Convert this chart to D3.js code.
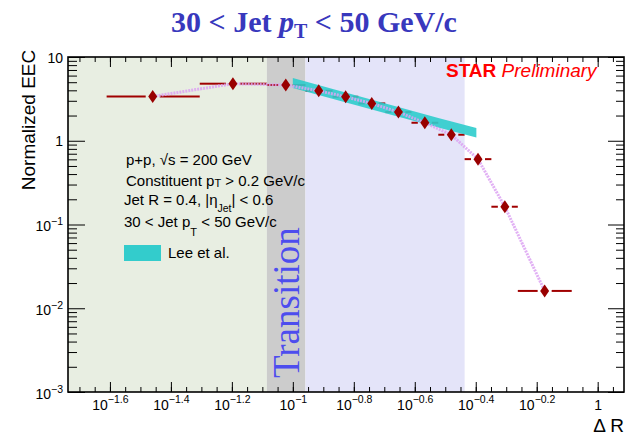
<!DOCTYPE html>
<html>
<head>
<meta charset="utf-8">
<script src="https://cdn.jsdelivr.net/npm/d3@7"></script>
<style>
  body { margin: 0; background: #fff; }
</style>
</head>
<body>
<div id="chart-area"></div>
<script>

// EEC points
var binLow  = [0.0245, 0.0495, 0.0822, 0.110, 0.135, 0.164, 0.201, 0.245, 0.300, 0.366, 0.448, 0.547];
var binHigh = [0.0495, 0.0822, 0.110, 0.135, 0.164, 0.201, 0.245, 0.300, 0.366, 0.448, 0.547, 0.822];
var binCenter = [0.0347, 0.0636, 0.0948, 0.1216, 0.149, 0.1815, 0.222, 0.271, 0.331, 0.405, 0.496, 0.670];
var eecValues = [3.38, 4.80, 4.63, 3.95, 3.35, 2.79, 2.20, 1.64, 1.18, 0.603, 0.163, 0.0161];

// Lee et al. band
var leeX    = [0.1, 0.2, 0.3, 0.4];
var leeLow  = [4.26, 2.14, 1.44, 1.09];
var leeHigh = [5.61, 2.80, 1.87, 1.42];

// shaded regions: perturbative / transition / free hadron
var regionEdges = [0.0183, 0.0822, 0.110, 0.366];

// axis ticks
var xMajorExp = [-1.6, -1.4, -1.2, -1, -0.8, -0.6, -0.4, -0.2, 0];
var yMajorExp = [-3, -2, -1, 0, 1];

var W = 630, H = 438;
var frame = { left: 68, right: 624, top: 57, bottom: 392 };
var regionColors = ["#e8eee2", "#cccccc", "#e4e4f9"];
var sans = "'Liberation Sans', Arial, sans-serif";
var serif = "'Liberation Serif', 'Times New Roman', serif";

var svg = d3.select("#chart-area")
    .append("svg")
        .attr("width", W)
        .attr("height", H)
        .attr("font-family", sans);

// Scales
var x = d3.scaleLog()
    .domain([0.0183, 1.22])
    .range([frame.left, frame.right]);
var y = d3.scaleLog()
    .domain([1e-3, 10])
    .range([frame.bottom, frame.top]);

// background regions
svg.selectAll("rect.region")
    .data(d3.range(regionEdges.length - 1))
    .enter().append("rect")
        .attr("class", "region")
        .attr("x", function(i){ return x(regionEdges[i]); })
        .attr("width", function(i){ return x(regionEdges[i + 1]) - x(regionEdges[i]); })
        .attr("y", frame.top)
        .attr("height", frame.bottom - frame.top)
        .attr("fill", function(i){ return regionColors[i]; });

// Transition label
svg.append("text")
    .attr("transform", "translate(299,378) rotate(-90)")
    .attr("font-family", serif)
    .attr("font-size", "37px")
    .attr("fill", "#4d4dee")
    .text("Transition");

// ticks (minor first, then major)
var xMinor = d3.range(-1.70, 0.06, 0.05).map(function(e){ return Math.pow(10, e); });
var yMinor = [];
yMajorExp.slice(0, -1).forEach(function(e) {
    for (var k = 2; k <= 9; k++) yMinor.push(k * Math.pow(10, e));
});
var xMajor = xMajorExp.map(function(e){ return Math.pow(10, e); });
var yMajor = yMajorExp.map(function(e){ return Math.pow(10, e); });

function tickAxis(axis, values, size, transform) {
    var a = svg.append("g")
        .attr("transform", transform)
        .call(axis.tickValues(values).tickSize(-size).tickFormat(""));
    a.select(".domain").remove();
    a.selectAll("line").attr("stroke", "#000");
    return a;
}

tickAxis(d3.axisBottom(x), xMinor, 5, "translate(0," + frame.bottom + ")");
tickAxis(d3.axisTop(x), xMinor, 5, "translate(0," + frame.top + ")");
tickAxis(d3.axisLeft(y), yMinor, 9, "translate(" + frame.left + ",0)");
tickAxis(d3.axisRight(y), yMinor, 8, "translate(" + frame.right + ",0)");
tickAxis(d3.axisTop(x), xMajor, 10, "translate(0," + frame.top + ")");
tickAxis(d3.axisRight(y), yMajor, 16, "translate(" + frame.right + ",0)");

var xAxisG = tickAxis(d3.axisBottom(x), xMajor, 10, "translate(0," + frame.bottom + ")");
var yAxisG = tickAxis(d3.axisLeft(y), yMajor, 17, "translate(" + frame.left + ",0)");

// X tick labels like 10^-1.6
xAxisG.selectAll(".tick text")
    .each(function(d, i) {
        var t = d3.select(this)
            .attr("y", 18)
            .attr("dy", null)
            .attr("font-size", "14px")
            .attr("font-family", sans)
            .attr("text-anchor", "middle")
            .attr("fill", "#000");
        var e = xMajorExp[i];
        if (e === 0) { t.text("1"); return; }
        t.append("tspan").text("10");
        t.append("tspan").attr("font-size", "10.5px").attr("dy", -7)
            .text("\u2212" + Math.abs(e));
    });

// Y tick labels
yAxisG.selectAll(".tick text")
    .each(function(d, i) {
        var t = d3.select(this)
            .attr("x", -5)
            .attr("dy", null)
            .attr("font-size", "14px")
            .attr("font-family", sans)
            .attr("text-anchor", "end")
            .attr("fill", "#000");
        var e = yMajorExp[i];
        if (e === 0) { t.attr("y", 5).text("1"); return; }
        if (e === 1) { t.attr("y", 5).text("10"); return; }
        t.attr("y", 6);
        t.append("tspan").text("10");
        t.append("tspan").attr("font-size", "10.5px").attr("dy", -6)
            .text("\u2212" + Math.abs(e));
    });

// error bars (gap around marker)
var gap = 7;
var pts = d3.range(eecValues.length);
svg.selectAll("line.exlo")
    .data(pts)
    .enter().append("line")
        .attr("x1", function(i){ return x(binLow[i]); })
        .attr("x2", function(i){ return x(binCenter[i]) - gap; })
        .attr("y1", function(i){ return y(eecValues[i]); })
        .attr("y2", function(i){ return y(eecValues[i]); })
        .attr("stroke", "#a00000")
        .attr("stroke-width", 2);
svg.selectAll("line.exhi")
    .data(pts)
    .enter().append("line")
        .attr("x1", function(i){ return x(binCenter[i]) + gap; })
        .attr("x2", function(i){ return x(binHigh[i]); })
        .attr("y1", function(i){ return y(eecValues[i]); })
        .attr("y2", function(i){ return y(eecValues[i]); })
        .attr("stroke", "#a00000")
        .attr("stroke-width", 2);

// Lee et al. band
var leeArea = d3.area()
    .x(function(i){ return x(leeX[i]); })
    .y0(function(i){ return y(leeLow[i]); })
    .y1(function(i){ return y(leeHigh[i]); });
svg.append("path")
    .datum(d3.range(leeX.length))
    .attr("d", leeArea)
    .attr("fill", "#2ecccc")
    .attr("fill-opacity", 0.9);

// hatched systematic band through the points
var sysLine = d3.line()
    .x(function(i){ return x(binCenter[i]); })
    .y(function(i){ return y(eecValues[i]); });
svg.append("path")
    .datum(pts)
    .attr("d", sysLine)
    .attr("fill", "none")
    .attr("stroke", "#dca2f2")
    .attr("stroke-width", 3)
    .attr("stroke-dasharray", "2,1")
    .attr("stroke-opacity", 0.85);

// diamond markers
svg.selectAll("path.marker")
    .data(pts)
    .enter().append("path")
        .attr("class", "marker")
        .attr("d", "M0,-6.5L4.5,0L0,6.5L-4.5,0Z")
        .attr("transform", function(i){
            return "translate(" + x(binCenter[i]) + "," + y(eecValues[i]) + ")";
        })
        .attr("fill", "#990000");

// frame
svg.append("rect")
    .attr("x", frame.left)
    .attr("y", frame.top)
    .attr("width", frame.right - frame.left)
    .attr("height", frame.bottom - frame.top)
    .attr("fill", "none")
    .attr("stroke", "#000")
    .attr("stroke-width", 1.6);

// Title
var title = svg.append("text")
    .attr("x", 314)
    .attr("y", 32)
    .attr("text-anchor", "middle")
    .attr("font-family", serif)
    .attr("font-weight", "bold")
    .attr("font-size", "30px")
    .attr("fill", "#3838bd");
title.append("tspan").text("30 < Jet ");
title.append("tspan").attr("font-style", "italic").text("p");
title.append("tspan").attr("font-size", "20px").attr("dy", 6).text("T");
title.append("tspan").attr("dy", -6).text(" < 50 GeV/c");

// Axis labels
svg.append("text")
    .attr("transform", "translate(35,120) rotate(-90)")
    .attr("text-anchor", "middle")
    .attr("font-size", "19px")
    .text("Normalized EEC");
svg.append("text")
    .attr("x", 624)
    .attr("y", 432)
    .attr("text-anchor", "end")
    .attr("font-size", "19px")
    .text("\u0394 R");

// STAR Preliminary
var star = svg.append("text")
    .attr("x", 446)
    .attr("y", 77)
    .attr("font-size", "19px")
    .attr("fill", "#ff0000");
star.append("tspan").attr("font-weight", "bold").text("STAR");
star.append("tspan").attr("font-style", "italic").text(" Preliminary");

// info text
var info = svg.append("g").attr("font-size", "15px").attr("fill", "#000");
var l1 = info.append("text").attr("x", 126).attr("y", 165);
l1.append("tspan").text("p+p, \u221As = 200 GeV");
var l2 = info.append("text").attr("x", 126).attr("y", 186);
l2.append("tspan").text("Constituent p");
l2.append("tspan").attr("font-size", "11px").attr("dy", 1).text("T");
l2.append("tspan").attr("dy", -1).text(" > 0.2 GeV/c");
var l3 = info.append("text").attr("x", 124).attr("y", 205);
l3.append("tspan").text("Jet R = 0.4, |\u03B7");
l3.append("tspan").attr("font-size", "10.5px").attr("dy", 7).text("Jet");
l3.append("tspan").attr("dy", -7).text("| < 0.6");
var l4 = info.append("text").attr("x", 124).attr("y", 227);
l4.append("tspan").text("30 < Jet p");
l4.append("tspan").attr("font-size", "11px").attr("dy", 9).text("T");
l4.append("tspan").attr("dy", -9).text(" < 50 GeV/c");

// legend
svg.append("rect")
    .attr("x", 124).attr("y", 245)
    .attr("width", 37).attr("height", 16)
    .attr("fill", "#33cccc");
svg.append("text")
    .attr("x", 168).attr("y", 258)
    .attr("font-size", "15px")
    .text("Lee et al.");

</script>
</body>
</html>
